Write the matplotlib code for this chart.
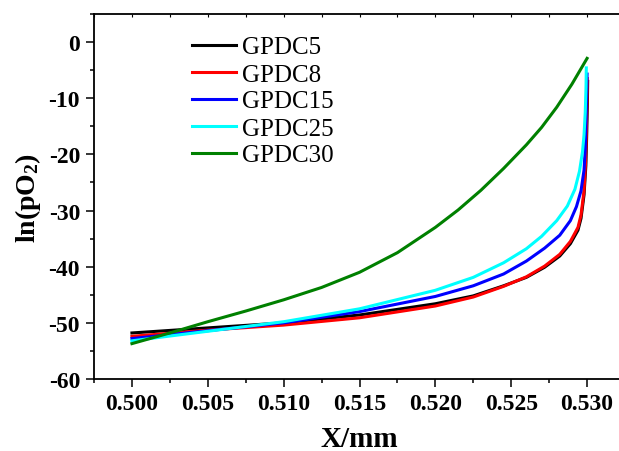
import matplotlib
matplotlib.use('Agg')
import matplotlib.pyplot as plt
from matplotlib.ticker import MultipleLocator

plt.rcParams['font.family'] = 'Liberation Serif'
plt.rcParams['mathtext.fontset'] = 'custom'
plt.rcParams['mathtext.rm'] = 'Liberation Serif:bold'
plt.rcParams['mathtext.bf'] = 'Liberation Serif:bold'
plt.rcParams['axes.unicode_minus'] = False

# values
x_gpdc5 = [0.5000, 0.5050, 0.5100, 0.5150, 0.5200, 0.5225, 0.5245, 0.5260, 0.5272, 0.5282, 0.5289,
           0.5294, 0.5296, 0.5298, 0.52992, 0.52998, 0.53002, 0.53004]
y_gpdc5 = [-51.8, -50.9, -50.0, -48.6, -46.6, -45.2, -43.4, -41.9, -40.1, -38.1, -35.9,
           -33.5, -31.4, -27.2, -22.0, -16.0, -11.0, -7.0]

x_gpdc8 = [0.5000, 0.5050, 0.5100, 0.5150, 0.5200, 0.5225, 0.5245, 0.5260, 0.5272, 0.5282, 0.5289,
           0.5294, 0.5296, 0.5298, 0.52990, 0.52995, 0.52999, 0.53001]
y_gpdc8 = [-52.4, -51.3, -50.4, -49.1, -47.0, -45.4, -43.5, -41.8, -39.9, -37.8, -35.5,
           -33.0, -30.8, -26.5, -21.5, -16.0, -11.0, -6.5]

x_gpdc15 = [0.5000, 0.5050, 0.5100, 0.5150, 0.5200, 0.5225, 0.5245, 0.5260, 0.5272, 0.5282, 0.5289,
            0.5293, 0.5296, 0.5298, 0.52988, 0.52993, 0.52997, 0.53000]
y_gpdc15 = [-52.8, -51.4, -50.0, -48.0, -45.3, -43.4, -41.3, -39.0, -36.7, -34.4, -31.8,
            -29.3, -26.5, -22.8, -19.0, -14.0, -9.5, -5.7]

x_gpdc25 = [0.5000, 0.5050, 0.5100, 0.5150, 0.5200, 0.5225, 0.5245, 0.5260, 0.5270, 0.5280, 0.5287,
            0.5292, 0.5295, 0.5297, 0.5298, 0.52988, 0.52993, 0.52995]
y_gpdc25 = [-53.2, -51.5, -49.8, -47.5, -44.2, -41.9, -39.3, -36.8, -34.6, -31.8, -29.2,
            -26.2, -23.0, -19.5, -16.5, -12.5, -8.0, -4.6]

x_gpdc30 = [0.5000, 0.5025, 0.5050, 0.5075, 0.5100, 0.5125, 0.5150, 0.5175, 0.5200, 0.5215, 0.5230,
            0.5245, 0.5260, 0.5270, 0.5280, 0.5290, 0.5300]
y_gpdc30 = [-53.7, -51.8, -49.8, -47.9, -45.9, -43.7, -41.0, -37.5, -33.0, -29.9, -26.4,
            -22.5, -18.3, -15.2, -11.6, -7.5, -2.9]

labels = ['GPDC5', 'GPDC8', 'GPDC15', 'GPDC25', 'GPDC30']
colors = ['black', 'red', 'blue', 'cyan', 'green']
xs = [x_gpdc5, x_gpdc8, x_gpdc15, x_gpdc25, x_gpdc30]
ys = [y_gpdc5, y_gpdc8, y_gpdc15, y_gpdc25, y_gpdc30]

fig = plt.figure(figsize=(6.19, 4.52), dpi=100)
ax = fig.add_axes([94 / 619, 1 - 380 / 452, 531 / 619, 365 / 452])

for x, y, c, lab in zip(xs, ys, colors, labels):
    ax.plot(x, y, color=c, lw=2.2, label=lab)

ax.set_xlim(0.4975, 0.5325)
ax.set_ylim(-60, 5)
ax.xaxis.set_major_locator(MultipleLocator(0.005))
ax.xaxis.set_minor_locator(MultipleLocator(0.0025))
ax.yaxis.set_major_locator(MultipleLocator(10))
ax.yaxis.set_minor_locator(MultipleLocator(5))
ax.xaxis.set_major_formatter(lambda v, p: '%.3f' % v)

for s in ax.spines.values():
    s.set_linewidth(1.3)
ax.spines['right'].set_visible(False)

ax.tick_params(which='both', direction='out', width=1.1, labelsize=17, pad=4, right=False)
ax.tick_params(which='major', length=6)
ax.tick_params(which='minor', length=3)
ax.tick_params(axis='x', which='both', top=True, labeltop=False)
for t in ax.get_xticklabels() + ax.get_yticklabels():
    t.set_fontweight('bold')
# tiny inward marks on the top spine
for tl in ax.xaxis.get_ticklines(minor=False)[1::2] + ax.xaxis.get_ticklines(minor=True)[1::2]:
    tl.set_markersize(2)
    tl.set_markeredgewidth(0.8)
    tl.set_marker(3)

ax.set_xlabel('X/mm', fontsize=21, fontweight='bold', labelpad=8)
ax.set_ylabel(r'$\mathbf{ln(pO_2)}$', fontsize=20, labelpad=4)

ax.legend(loc='upper left', bbox_to_anchor=(192 / 619, 1 - 37 / 452),
          bbox_transform=fig.transFigure, frameon=False, fontsize=18,
          handlelength=1.75, handletextpad=0.25, labelspacing=0.18,
          borderpad=0, borderaxespad=0)

plt.savefig('out.png', dpi=100)
